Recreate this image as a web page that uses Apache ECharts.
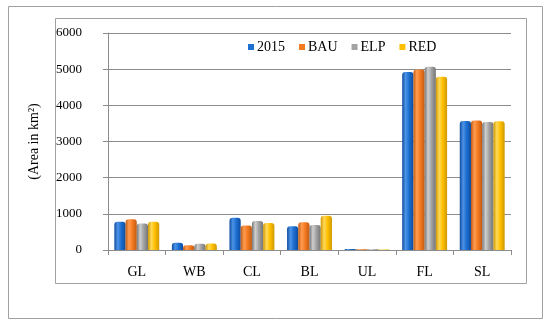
<!DOCTYPE html>
<html>
<head>
<meta charset="utf-8">
<script src="https://cdn.jsdelivr.net/npm/echarts@6/dist/echarts.min.js"></script>
<style>html,body{margin:0;padding:0;background:#fff}#c{width:550px;height:326px}</style>
</head>
<body>
<div id="c"></div>
<script>
const categories = ['GL', 'WB', 'CL', 'BL', 'UL', 'FL', 'SL'];
const seriesNames = ['2015', 'BAU', 'ELP', 'RED'];
const v2015 = [780, 200, 890, 660, 25, 4920, 3570];
const vBAU  = [850, 130, 680, 770, 20, 4990, 3580];
const vELP  = [730, 170, 800, 690, 18, 5070, 3540];
const vRED  = [780, 180, 750, 950, 15, 4790, 3560];
const yTicks = [0, 1000, 2000, 3000, 4000, 5000, 6000];

const FONT = 'Liberation Serif';
const palette = [
  {base:'#1D6FD1', light:'#4D93E6', dark:'#0E4C9E'},
  {base:'#F57B22', light:'#FF9C52', dark:'#C25A12'},
  {base:'#A3A3A3', light:'#CFCFCF', dark:'#757575'},
  {base:'#FFC000', light:'#FFD95A', dark:'#CF9800'}
];
function cyl(p){
  return new echarts.graphic.LinearGradient(0,0,1,0,[
    {offset:0,color:p.dark},{offset:0.3,color:p.light},{offset:0.6,color:p.base},{offset:1,color:p.dark}
  ]);
}
const values = [v2015, vBAU, vELP, vRED];
const chart = echarts.init(document.getElementById('c'), null, {renderer:'canvas'});
chart.setOption({
  animation:false,
  textStyle:{fontFamily:FONT},
  graphic:[
    {type:'rect', shape:{x:8.5,y:6.5,width:534,height:312}, style:{fill:'none',stroke:'#A0A0A0',lineWidth:1}, silent:true},
    {type:'rect', shape:{x:55.5,y:18.5,width:471,height:265}, style:{fill:'none',stroke:'#A0A0A0',lineWidth:1}, silent:true}
  ],
  legend:{
    top:35, left:243,
    itemWidth:6, itemHeight:6, itemGap:14,
    icon:'rect',
    textStyle:{fontFamily:FONT, fontSize:14, color:'#000', padding:[0,0,0,-2]},
    data: seriesNames.map((n,i)=>({name:n, itemStyle:{color:palette[i].base}}))
  },
  grid:{left:108, right:39, top:33, bottom:76},
  xAxis:{
    type:'category', data:categories,
    axisLine:{lineStyle:{color:'#8C8C8C',width:1}},
    axisTick:{show:true, length:5, lineStyle:{color:'#8C8C8C'}},
    axisLabel:{fontFamily:FONT, fontSize:14, color:'#000', margin:15}
  },
  yAxis:{
    type:'value', min:yTicks[0], max:yTicks[yTicks.length-1], interval:1000,
    name:'(Area in km²)', nameLocation:'middle', nameRotate:90, nameGap:67,
    nameTextStyle:{fontFamily:FONT, fontSize:14, color:'#000'},
    axisLine:{show:true, lineStyle:{color:'#8C8C8C',width:1}},
    axisTick:{show:true, length:5, lineStyle:{color:'#8C8C8C'}},
    axisLabel:{fontFamily:FONT, fontSize:13, color:'#000', margin:26, formatter:(v)=>String(v)},
    splitLine:{show:true, lineStyle:{color:'#8C8C8C',width:1}}
  },
  series: seriesNames.map((n,i)=>({
    name:n, type:'bar', data:values[i],
    barGap:'0%', barCategoryGap:'22%',
    itemStyle:{color:cyl(palette[i]), borderRadius:[3,3,0,0]}
  }))
});
</script>
</body>
</html>
